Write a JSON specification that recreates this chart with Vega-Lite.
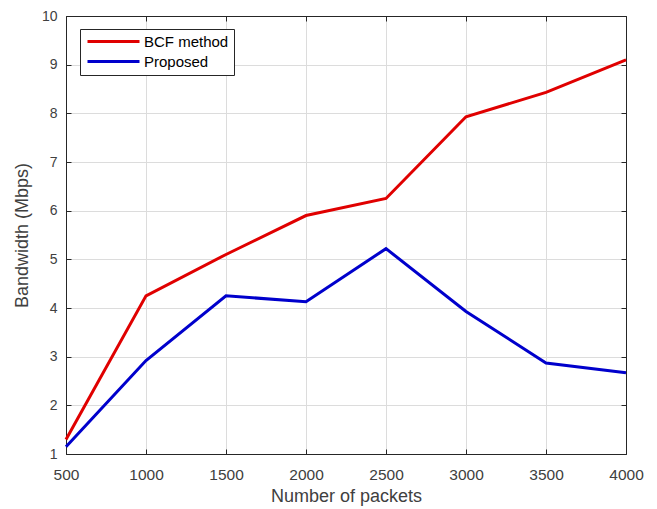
{
  "$schema": "https://vega.github.io/schema/vega-lite/v6.json",
  "width": 560,
  "height": 438,
  "autosize": {"type": "none"},
  "padding": {"left": 66, "top": 16, "right": 31, "bottom": 55},
  "background": "white",
  "config": {
    "view": {"stroke": "#262626", "strokeWidth": 1},
    "font": "Liberation Sans",
    "axis": {
      "domainColor": "#262626",
      "tickColor": "#262626",
      "labelColor": "#404040",
      "titleColor": "#404040",
      "labelFont": "Liberation Sans",
      "titleFont": "Liberation Sans",
      "labelFontSize": 14,
      "titleFontSize": 18,
      "titleFontWeight": "normal",
      "gridColor": "#dcdcdc",
      "gridOpacity": 1,
      "tickSize": -5,
      "labelFlush": false
    }
  },
  "data": {
    "values": [
      {"packets": 500, "bw": 1.3, "method": "BCF method"},
      {"packets": 1000, "bw": 4.25, "method": "BCF method"},
      {"packets": 1500, "bw": 5.1, "method": "BCF method"},
      {"packets": 2000, "bw": 5.9, "method": "BCF method"},
      {"packets": 2500, "bw": 6.25, "method": "BCF method"},
      {"packets": 3000, "bw": 7.93, "method": "BCF method"},
      {"packets": 3500, "bw": 8.43, "method": "BCF method"},
      {"packets": 4000, "bw": 9.1, "method": "BCF method"},
      {"packets": 500, "bw": 1.15, "method": "Proposed"},
      {"packets": 1000, "bw": 2.92, "method": "Proposed"},
      {"packets": 1500, "bw": 4.25, "method": "Proposed"},
      {"packets": 2000, "bw": 4.13, "method": "Proposed"},
      {"packets": 2500, "bw": 5.22, "method": "Proposed"},
      {"packets": 3000, "bw": 3.93, "method": "Proposed"},
      {"packets": 3500, "bw": 2.87, "method": "Proposed"},
      {"packets": 4000, "bw": 2.67, "method": "Proposed"}
    ]
  },
  "resolve": {"axis": {"x": "independent", "y": "independent"}},
  "layer": [
    {
      "mark": {"type": "line", "strokeWidth": 3},
      "encoding": {
        "x": {
          "field": "packets",
          "type": "quantitative",
          "scale": {"domain": [500, 4000], "nice": false, "zero": false},
          "axis": {"values": [500, 1000, 1500, 2000, 2500, 3000, 3500, 4000], "title": "Number of packets", "titlePadding": 5, "format": "d", "labelFontSize": 15.5, "labelPadding": 18}
        },
        "y": {
          "field": "bw",
          "type": "quantitative",
          "scale": {"domain": [1, 10], "nice": false, "zero": false},
          "axis": {"values": [1, 2, 3, 4, 5, 6, 7, 8, 9, 10], "title": "Bandwidth (Mbps)", "titlePadding": 10, "labelPadding": 14}
        },
        "color": {
          "field": "method",
          "type": "nominal",
          "scale": {"domain": ["BCF method", "Proposed"], "range": ["#e00000", "#0000cc"]},
          "legend": {
            "title": null,
            "orient": "none",
            "legendX": 14,
            "legendY": 13,
            "symbolType": "M-1,0H9.4",
            "symbolSize": 100,
            "symbolStrokeWidth": 3,
            "labelFontSize": 15,
            "labelColor": "#000000",
            "labelOffset": 44,
            "rowPadding": 4,
            "strokeColor": "#262626",
            "fillColor": "white",
            "padding": 5
          }
        }
      }
    },
    {
      "mark": {"type": "line", "strokeOpacity": 0},
      "encoding": {
        "x": {
          "field": "packets",
          "type": "quantitative",
          "axis": {"orient": "top", "values": [500, 1000, 1500, 2000, 2500, 3000, 3500, 4000], "labels": false, "title": null, "grid": false}
        },
        "y": {
          "field": "bw",
          "type": "quantitative",
          "axis": {"orient": "right", "values": [1, 2, 3, 4, 5, 6, 7, 8, 9, 10], "labels": false, "title": null, "grid": false}
        },
        "detail": {"field": "method"}
      }
    }
  ]
}
